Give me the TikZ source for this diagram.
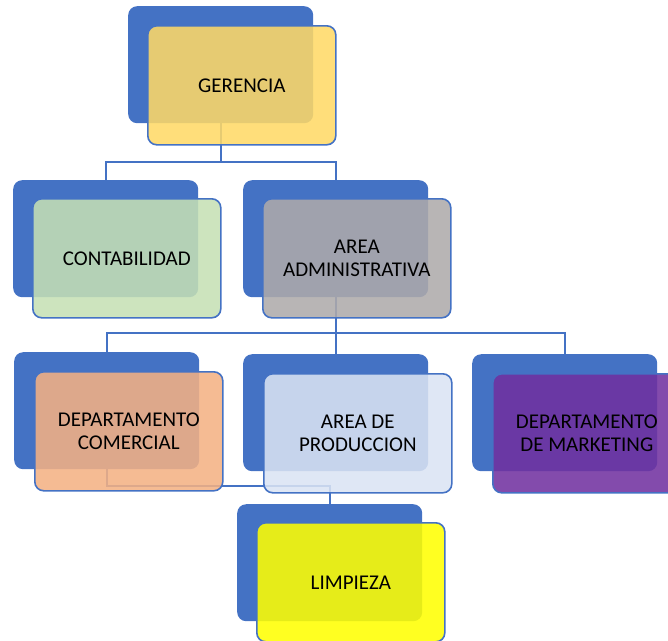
\documentclass[tikz,border=0pt]{standalone}
\usepackage{fontspec}
\setmainfont{Carlito}
\begin{document}
\begin{tikzpicture}[x=1pt,y=1pt,
  backbox/.style={draw=none, fill=orgblue, rounded corners=9pt, anchor=north west,
    minimum width=185pt, minimum height=117pt, inner sep=0pt},
  frontbox/.style={draw=orgblue, line width=1.6pt, fill opacity=0.87, text opacity=1,
    rounded corners=9pt, anchor=north west, minimum width=188pt, minimum height=119pt,
    inner sep=0pt, align=center, font=\fontsize{21}{23}\selectfont},
  link/.style={draw=orgblue, line width=2.4pt}]
\definecolor{orgblue}{HTML}{4472C4}
\definecolor{cgold}{HTML}{FFD966}
\definecolor{cgreen}{HTML}{C5E0B4}
\definecolor{cgray}{HTML}{AEAAAA}
\definecolor{corange}{HTML}{F4B183}
\definecolor{clight}{HTML}{DAE3F3}
\definecolor{cpurple}{HTML}{7030A0}
\definecolor{cyellow}{HTML}{FFFF00}
\useasboundingbox (0,0) rectangle (668,-640);
\clip (0,0) rectangle (668,-640);

% back plates
\node[backbox] (gb) at (128,-6) {};
\node[backbox] (cb) at (13,-180) {};
\node[backbox] (ab) at (243,-180) {};
\node[backbox] (db) at (14,-352) {};
\node[backbox] (pb) at (243,-354) {};
\node[backbox] (mb) at (472,-354) {};
\node[backbox] (lb) at (237,-504) {};

% bus coordinates
\coordinate (bus1) at (0,-162);
\coordinate (bus2) at (0,-333);
\coordinate (bus3) at (0,-486);

% connectors, drawn under the boxes
\draw[link] (gb.south) -- (gb.south |- bus1) -| (cb.north);
\draw[link] (gb.south |- bus1) -| (ab.north);
\draw[link] (ab.south) -- (ab.south |- bus2) -| (db.north);
\draw[link] (ab.south |- bus2) -- (pb.north);
\draw[link] (ab.south |- bus2) -| (mb.north);
\draw[link] (db.south) -- (db.south |- bus3) -| (lb.north);

% front cards
\node[frontbox, fill=cgold] (gf) at (147,-25) {GERENCIA};
\node[frontbox, fill=cgreen] (cf) at (32,-198) {CONTABILIDAD};
\node[frontbox, fill=cgray] (af) at (262,-198) {AREA\\ADMINISTRATIVA};
\node[frontbox, fill=corange] (df) at (34,-371) {DEPARTAMENTO\\COMERCIAL};
\node[frontbox, fill=clight] (pf) at (263,-373) {AREA DE\\PRODUCCION};
\node[frontbox, fill=cpurple] (mf) at (492,-373) {DEPARTAMENTO\\DE MARKETING};
\node[frontbox, fill=cyellow] (lf) at (256,-522) {LIMPIEZA};
\end{tikzpicture}
\end{document}
